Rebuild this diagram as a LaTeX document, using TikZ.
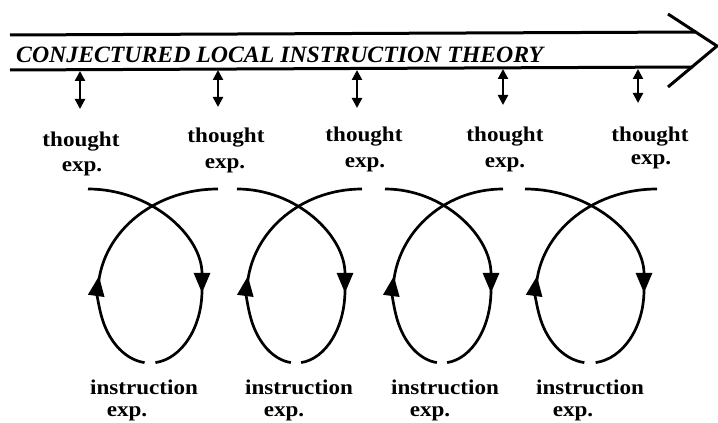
\documentclass[tikz,border=0pt]{standalone}
\usepackage{fontspec}
\usepackage{graphicx}
\newfontfamily\titlefont{Liberation Serif}
\newfontfamily\labelfont{Liberation Serif}
\newcommand\lbltext[1]{\scalebox{1.1}[1]{#1}}
\usetikzlibrary{arrows.meta}
\begin{document}
\begin{tikzpicture}[x=1pt,y=1pt,
  rail/.style={line width=3pt},
  link/.style={line width=2.2pt,<->,>={Triangle[width=10pt,length=10pt]}},
  loopline/.style={line width=2.7pt},
  looptip/.style={line width=2.7pt,-{Triangle[width=16pt,length=20pt]}},
  lab/.style={font=\labelfont\fontsize{21}{25}\selectfont\bfseries, inner sep=0pt, anchor=base},
]
\useasboundingbox (0,0) rectangle (718,423);
\fill[white] (0,0) rectangle (718,423);

% the big arrow (theory)
\coordinate (tl) at (10,388);
\coordinate (tr) at (696,391);
\coordinate (bl) at (10,353);
\coordinate (br) at (693,356);
\coordinate (c1) at (668,409);
\coordinate (tip) at (717,377);
\coordinate (c2) at (668,336);
\draw[rail] (tl) -- (tr);
\draw[rail] (bl) -- (br);
\draw[rail, line join=miter] (c1) -- (tip) -- (c2);

\node[anchor=base west, inner sep=0pt] (title) at (16,360)
  {\resizebox{527pt}{15.5pt}{\titlefont\bfseries\itshape CONJECTURED LOCAL INSTRUCTION THEORY}};

% double arrows
\foreach \x/\yt/\yb [count=\i] in {80/352/314, 218/353/316, 357/353/315, 503/354/318, 638/354/320}{
  \coordinate (a\i) at (\x,\yt);
  \coordinate (b\i) at (\x,\yb);
  \draw[link] (a\i) -- (b\i);
}

% thought exp. labels
\node[lab] (t1) at (81,276) {\lbltext{thought}};
\node[lab] (t1e) at (82,251) {\lbltext{exp.}};
\node[lab] (t2) at (226,280) {\lbltext{thought}};
\node[lab] (t2e) at (225,254) {\lbltext{exp.}};
\node[lab] (t3) at (364,281) {\lbltext{thought}};
\node[lab] (t3e) at (365,255) {\lbltext{exp.}};
\node[lab] (t4) at (505,281) {\lbltext{thought}};
\node[lab] (t4e) at (505,255) {\lbltext{exp.}};
\node[lab] (t5) at (650,281) {\lbltext{thought}};
\node[lab] (t5e) at (651,258) {\lbltext{exp.}};

% instruction exp. labels
\node[lab] (i1) at (144,28) {\lbltext{instruction}};
\node[lab] (i1e) at (127,6) {\lbltext{exp.}};
\node[lab] (i2) at (299,28) {\lbltext{instruction}};
\node[lab] (i2e) at (284,6) {\lbltext{exp.}};
\node[lab] (i3) at (445,28) {\lbltext{instruction}};
\node[lab] (i3e) at (430,6) {\lbltext{exp.}};
\node[lab] (i4) at (590,28) {\lbltext{instruction}};
\node[lab] (i4e) at (573,6) {\lbltext{exp.}};

% loops
\foreach \cx/\r/\a/\b in {150/52/62/68, 296/49/59/66, 442/49/57/61, 590/54/65/67}{
  \draw[looptip] (\cx-\a,234) arc[start angle=90, end angle=0, x radius=\a+\r, y radius=104];
  \draw[loopline] (\cx+\r,133) arc[start angle=0, end angle=-84, x radius=\r, y radius=73];
  \draw[looptip] ({\cx+\r*cos(-96)},{133+73*sin(-96)}) arc[start angle=-96, end angle=-191, x radius=\r, y radius=73];
  \draw[loopline] (\cx-\r,130) arc[start angle=180, end angle=90, x radius=\b+\r, y radius=104];
}
\end{tikzpicture}
\end{document}
